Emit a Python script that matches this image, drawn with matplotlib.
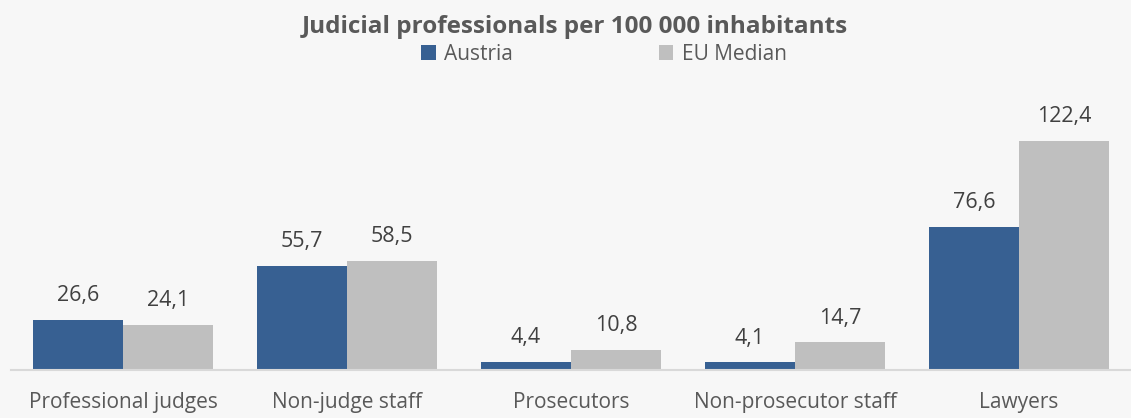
import numpy as np
import matplotlib.pyplot as plt

# Chart data
categories = ["Professional judges", "Non-judge staff", "Prosecutors", "Non-prosecutor staff", "Lawyers"]
austria = [26.6, 55.7, 4.4, 4.1, 76.6]
eu_median = [24.1, 58.5, 10.8, 14.7, 122.4]
series_names = ["Austria", "EU Median"]

bg = "#f7f7f7"
blue = "#376092"
grey = "#bfbfbf"
text_col = "#595959"

plt.rcParams['font.family'] = ['Open Sans', 'DejaVu Sans']

fig = plt.figure(figsize=(11.31, 4.18), dpi=100, facecolor=bg)
ax = fig.add_axes([11 / 1131, 48 / 418, 1 - 11 / 1131, (370 - 70.6) / 418])
ax.set_facecolor(bg)

x = np.arange(len(categories))
w = 90 / 224
b1 = ax.bar(x - w / 2, austria, w, color=blue, label=series_names[0])
b2 = ax.bar(x + w / 2, eu_median, w, color=grey, label=series_names[1])

for bars, vals in ((b1, austria), (b2, eu_median)):
    for rect, v in zip(bars, vals):
        ax.annotate(f"{v:.1f}".replace(".", ","),
                    (rect.get_x() + rect.get_width() / 2, rect.get_height()),
                    xytext=(0, 13.5), textcoords="offset points",
                    ha="center", va="baseline", fontsize=15.5, color="#404040")

ax.set_xlim(-0.5, len(categories) - 0.5)
ax.set_ylim(0, 160)
ax.set_yticks([])
ax.set_xticks(x)
ax.set_xticklabels(categories, fontsize=15, color=text_col)
ax.tick_params(axis="x", length=0, pad=16)
for side in ("top", "right", "left"):
    ax.spines[side].set_visible(False)
ax.spines["bottom"].set_color("#d9d9d9")
ax.spines["bottom"].set_linewidth(1.5)

fig.text(575 / 1131, 1 - 27 / 418, "Judicial professionals per 100 000 inhabitants",
         ha="center", va="center", fontsize=17.5, fontweight="bold", color=text_col)
fig.legend(loc="center", bbox_to_anchor=(604 / 1131, 1 - 54 / 418), ncol=2, frameon=False,
           fontsize=15, handlelength=0.7, handleheight=0.7, handletextpad=0.4,
           columnspacing=7.0, labelcolor=text_col)

fig.savefig("out.png", dpi=100, facecolor=bg)
